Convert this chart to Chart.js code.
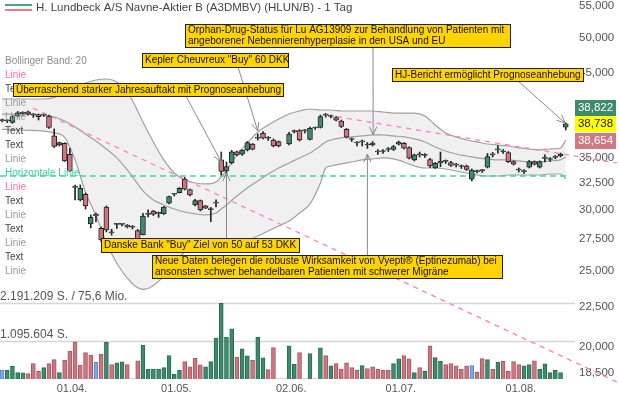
<!DOCTYPE html>
<html>
<head>
<meta charset="utf-8">
<script src="https://cdn.jsdelivr.net/npm/chart.js@4.4.1/dist/chart.umd.min.js"></script>
<style>
  html, body { margin: 0; padding: 0; background: #fff; }
</style>
</head>
<body>
<canvas id="mycanvas" width="619" height="399"></canvas>
<script>
// x axis: one slot per trading day, labels only at month starts
var tickLabels = ['01.04.', '01.05.', '02.06.', '01.07.', '01.08.'];
var tickIndex = [13, 33, 55, 76, 99];

// daily candles (DKK), index 54 has no candle
var openV = [39.10, 39.06, 38.90, 39.64, 39.95, 40.14, 39.75, 39.79, 39.75, 39.64,
  37.36, 36.34, 36.55, 35.38, 32.07, 30.89, 31.42, 28.77, 29.61, 28.40,
  30.24, 28.03, 28.73, 28.73, 28.65, 28.49, 28.21, 27.87, 29.60, 29.90,
  29.68, 29.64, 30.60, 31.42, 31.57, 32.88, 31.85, 30.44, 30.83, 30.35,
  30.02, 30.60, 34.79, 33.67, 34.50, 35.65, 35.38, 35.84, 36.48, 37.11,
  37.65, 37.11, 36.91, 36.73, null, 36.48, 37.84, 37.96, 37.92, 36.99,
  38.25, 38.31, 39.75, 39.58, 39.46, 39.06, 38.10, 36.97, 36.59, 36.70,
  36.37, 36.59, 35.62, 35.67, 35.89, 35.89, 36.46, 36.55, 36.09, 34.79,
  35.31, 35.26, 34.84, 33.97, 34.48, 34.64, 34.51, 34.27, 34.12, 34.17,
  32.85, 33.60, 33.70, 34.04, 35.31, 35.84, 35.65, 35.55, 34.62, 33.77,
  33.60, 34.04, 34.62, 34.04, 34.95, 34.84, 35.05, 35.20, 38.35];
var highV = [39.29, 39.23, 39.68, 40.17, 40.14, 40.23, 39.95, 39.87, 39.87, 39.75,
  38.14, 36.70, 36.62, 36.02, 32.30, 32.30, 31.54, 29.55, 29.72, 28.50,
  30.35, 28.32, 28.82, 28.80, 28.72, 28.64, 28.30, 29.70, 29.99, 29.95,
  29.81, 30.31, 31.26, 31.51, 32.06, 33.03, 31.91, 30.94, 30.89, 30.40,
  30.21, 30.90, 35.62, 34.58, 35.79, 35.72, 35.84, 36.75, 36.53, 37.58,
  37.85, 37.30, 37.03, 36.80, null, 37.75, 38.03, 38.08, 38.08, 38.37,
  38.37, 39.75, 39.95, 39.75, 39.58, 39.17, 38.20, 37.14, 36.75, 36.91,
  36.64, 36.75, 35.89, 35.89, 36.10, 36.32, 36.80, 36.64, 36.16, 35.41,
  35.62, 35.46, 34.95, 34.53, 35.62, 34.79, 34.64, 34.43, 34.27, 34.27,
  33.87, 33.77, 33.82, 35.46, 35.57, 36.32, 35.89, 35.67, 34.69, 33.97,
  33.82, 34.74, 34.69, 34.69, 35.31, 35.03, 35.26, 35.51, 38.822];
var lowV = [38.94, 38.88, 38.78, 39.52, 39.75, 39.75, 39.48, 39.17, 39.58, 38.21,
  36.10, 36.26, 34.64, 33.62, 30.89, 30.80, 30.08, 28.43, 28.97, 27.30,
  28.10, 27.83, 28.40, 28.60, 28.43, 28.34, 27.40, 27.84, 29.37, 29.50,
  29.33, 29.59, 30.53, 31.26, 31.54, 31.82, 31.26, 30.35, 29.90, 30.11,
  28.97, 30.26, 33.27, 33.27, 34.38, 35.20, 35.25, 35.73, 35.84, 36.91,
  37.03, 36.86, 36.16, 36.16, null, 36.37, 37.69, 36.80, 37.69, 36.91,
  38.08, 38.25, 39.52, 39.40, 39.06, 38.31, 37.14, 36.75, 36.26, 36.26,
  36.00, 36.26, 35.36, 35.46, 35.67, 35.78, 36.37, 35.94, 34.90, 34.69,
  35.10, 35.05, 34.02, 33.92, 34.10, 34.43, 34.12, 34.07, 33.92, 33.72,
  32.69, 33.47, 33.52, 33.97, 35.10, 35.51, 35.46, 34.53, 34.27, 33.57,
  33.42, 33.97, 34.27, 33.97, 34.58, 34.63, 34.90, 35.10, 38.03];
var closeV = [39.10, 39.06, 39.56, 40.02, 39.95, 39.87, 39.75, 39.56, 39.75, 38.33,
  36.22, 36.62, 34.69, 33.67, 32.07, 31.98, 30.35, 29.35, 29.46, 27.43,
  28.26, 28.03, 28.73, 28.73, 28.51, 28.49, 27.51, 29.46, 29.60, 29.61,
  29.68, 30.24, 31.20, 31.42, 31.98, 31.91, 31.36, 30.83, 29.99, 30.15,
  30.02, 30.60, 33.62, 34.10, 35.65, 35.31, 35.79, 36.62, 35.91, 37.11,
  37.11, 37.11, 36.26, 36.26, null, 37.58, 37.84, 36.91, 37.92, 38.22,
  38.25, 39.58, 39.75, 39.58, 39.14, 38.42, 37.22, 36.97, 36.59, 36.70,
  36.37, 36.37, 35.62, 35.67, 35.89, 36.21, 36.68, 36.02, 34.97, 35.31,
  35.31, 35.26, 34.17, 34.43, 34.64, 34.64, 34.24, 34.27, 34.12, 33.82,
  33.77, 33.60, 33.70, 35.13, 35.31, 35.84, 35.65, 34.62, 34.36, 33.77,
  33.60, 34.62, 34.36, 34.62, 34.95, 34.84, 35.05, 35.41, 38.738];

// daily volume (shares) and bar colour class: u = up, d = down, n = unchanged
var volume = [252000, 252000, 369000, 184000, 175000, 155000, 446000, 223000, 330000, 446000,
  563000, 184000, 543000, 805000, 1077000, 398000, 766000, 689000, 485000, 718000,
  1067000, 417000, 466000, 495000, 417000, 0, 524000, 980000, 281000, 281000,
  281000, 330000, 679000, 136000, 252000, 504000, 349000, 601000, 407000, 349000,
  504000, 1174000, 2191209, 1203000, 1455000, 631000, 873000, 669000, 543000, 1203000,
  611000, 272000, 912000, 0, 0, 960000, 427000, 766000, 0, 737000,
  0, 902000, 679000, 378000, 446000, 281000, 466000, 330000, 252000, 388000,
  301000, 349000, 281000, 252000, 252000, 446000, 582000, 679000, 582000, 184000,
  330000, 223000, 960000, 621000, 514000, 417000, 446000, 378000, 281000, 378000,
  388000, 194000, 592000, 563000, 281000, 485000, 514000, 223000, 504000, 417000,
  378000, 417000, 524000, 281000, 437000, 184000, 252000, 184000, null];
var volDir = ['n','u','u','u','u','d','d','d','u','d',
  'd','u','d','d','d','d','d','d','n','d',
  'u','d','u','u','d','n','d','u','u','u',
  'u','u','u','u','u','d','d','d','d','u',
  'u','u','u','u','u','d','u','u','d','u',
  'u','d','d','n','n','u','u','d','n','u',
  'n','u','d','u','d','d','d','d','d','u',
  'd','d','d','d','d','u','u','d','d','u',
  'd','u','d','u','u','d','d','d','d','d',
  'n','d','d','u','d','u','d','d','d','d',
  'u','u','d','u','u','u','u','u','u'];

// Bollinger band (20) read at sample days
var bbIndex = [0, 4, 8, 10, 12, 14, 16, 18, 20, 22,
  24, 26, 27, 29, 31, 33, 35, 37, 39, 41,
  42, 43, 45, 47, 49, 51, 53, 55, 57, 59,
  61, 62, 63, 65, 67, 69, 71, 73, 75, 77,
  79, 81, 83, 85, 87, 89, 91, 93, 95, 97,
  99, 101, 103, 105, 107, 108];
var bbUpper = [41.69, 41.69, 41.69, 41.90, 42.50, 43.20, 43.72, 44.11, 44.24, 43.85,
  42.60, 40.23, 38.94, 36.70, 34.79, 33.47, 32.78, 32.49, 32.40, 32.59,
  33.08, 33.77, 35.31, 36.59, 37.80, 38.59, 39.29, 39.87, 40.23, 40.47,
  40.35, 40.35, 40.35, 40.23, 40.23, 40.23, 40.23, 40.11, 39.99, 39.99,
  39.99, 39.64, 38.59, 37.69, 37.25, 36.91, 36.70, 36.48, 36.37, 36.26,
  36.05, 35.94, 35.84, 35.94, 36.05, 36.91];
var bbMid = [39.87, 39.87, 39.75, 39.52, 39.06, 38.37, 37.58, 36.80, 35.94, 35.00,
  33.77, 32.40, 31.73, 30.89, 30.44, 30.08, 29.81, 29.64, 29.55, 29.72,
  30.08, 30.44, 31.26, 32.01, 32.69, 33.37, 33.97, 34.48, 35.00, 35.52,
  36.26, 36.70, 36.91, 37.14, 37.25, 37.36, 37.47, 37.47, 37.36, 37.25,
  37.03, 36.70, 36.16, 35.73, 35.41, 35.20, 35.00, 34.90, 34.79, 34.79,
  34.69, 34.58, 34.58, 34.69, 34.79, 35.10];
var bbLower = [38.10, 38.00, 37.90, 37.70, 37.20, 34.80, 31.60, 29.50, 27.20, 25.60,
  24.50, 23.80, 23.69, 23.97, 24.66, 25.69, 26.47, 26.95, 27.11, 27.19,
  27.35, 27.35, 27.35, 27.43, 27.76, 28.18, 28.60, 29.02, 29.72, 30.53,
  32.49, 33.97, 34.17, 34.38, 34.58, 34.79, 34.90, 35.00, 34.90, 34.58,
  34.17, 33.97, 33.97, 33.87, 33.67, 33.47, 33.27, 33.17, 33.17, 33.27,
  33.27, 33.27, 33.27, 33.37, 33.37, 32.88];

// drawn lines: two trend lines (index, price) and a horizontal level
var trendA = [[5.94, 40.59], [118.2, 17.94]];
var trendB = [[62.3, 39.75], [117.8, 34.48]];
var levelLine = 33.17;

var priceTicks = [18.5, 20, 22.5, 25, 27.5, 30, 32.5, 35, 45, 50, 55];
var lastQuotes = [38.822, 38.738, 38.654];

var legendItems = [
  ['Bollinger Band: 20', '#8c8c8c'], ['Linie', '#ff6fb5'], ['Text', '#444'], ['Linie', '#999'],
  ['Linie', '#999'], ['Text', '#444'], ['Text', '#444'], ['Linie', '#999'],
  ['Horizontale Linie', '#35d29c'], ['Linie', '#ff6fb5'], ['Text', '#444'], ['Linie', '#999'],
  ['Text', '#444'], ['Linie', '#999'], ['Text', '#444'], ['Linie', '#999']
];

// news notes: box [x, y, w, h] in px, arrow from box point to (day index, price)
var notes = [
  { lines: ['Orphan-Drug-Status für Lu AG13909 zur Behandlung von Patienten mit',
            'angeborener Nebennierenhyperplasie in den USA und EU'],
    box: [185, 24, 325, 23], from: [373, 47], at: [71.1, 37.47] },
  { lines: ['Kepler Cheuvreux "Buy" 60 DKK'], box: [142, 53, 146, 14], from: [238, 67], at: [49, 37.92] },
  { lines: ['Überraschend starker Jahresauftakt mit Prognoseanhebung'], box: [13, 83, 270, 13], from: [186, 96], at: [42, 34.58] },
  { lines: ['Danske Bank "Buy" Ziel von 50 auf 53 DKK'], box: [101, 238, 198, 14], from: [226.5, 238], at: [43, 33.47] },
  { lines: ['Neue Daten belegen die robuste Wirksamkeit von Vyepti® (Eptinezumab) bei',
            'ansonsten schwer behandelbaren Patienten mit schwerer Migräne'],
    box: [152, 255, 350, 23], from: [367.4, 255], at: [70, 35.41] },
  { lines: ['HJ-Bericht ermöglicht Prognoseanhebung'], box: [392, 68, 191, 13], from: [518, 81], at: [107.9, 38.822] }
];

var FONT = "'Liberation Sans', Arial, sans-serif";
Chart.defaults.font.family = FONT;

var upColor = '#3d8b6d';
var downColor = '#cc7680';
var volFill = { u: '#3d8b6d', d: '#cc7680', n: '#7ea7e6' };
var volEdge = { u: '#2b6b52', d: '#a85862', n: '#5582cc' };

function deNum(v, d) {
  var s = v.toFixed(d).split('.');
  var int = s[0].replace(/\B(?=(\d{3})+(?!\d))/g, '.');
  return d ? int + ',' + s[1] : int;
}

var candleIdx = [];
for (var i = 0; i < openV.length; i++) {
  if (openV[i] !== null) candleIdx.push(i);
}
var volIdx = [];
for (var j = 0; j < volume.length; j++) {
  if (volume[j] !== null) volIdx.push(j);
}

function bandSeries(vals) {
  return bbIndex.map(function (x, k) { return { x: x, y: vals[k] }; });
}
function pairSeries(p) {
  return p.map(function (q) { return { x: q[0], y: q[1] }; });
}

var volMax = Math.max.apply(null, volIdx.map(function (k) { return volume[k]; }));

var overlay = {
  id: 'overlay',
  beforeDatasetsDraw: function (chart) {
    var c = chart.ctx, yv = chart.scales.yv, a = chart.chartArea;
    c.save();
    [volMax, Math.floor(volMax / 2)].forEach(function (v, k) {
      var y = Math.round(yv.getPixelForValue(v)) + 0.5;
      c.strokeStyle = '#d6d6d6';
      c.lineWidth = 1.5;
      c.beginPath(); c.moveTo(0, y); c.lineTo(a.right, y); c.stroke();
      c.fillStyle = '#555';
      c.font = '12px ' + FONT;
      c.textBaseline = 'middle';
      c.textAlign = 'left';
      var txt = deNum(v, 0) + ' S.' + (k === 0 ? ' / 75,6 Mio.' : '');
      c.fillText(txt, 0, y - 7);
    });
    c.restore();
  },
  afterDatasetsDraw: function (chart) {
    var c = chart.ctx;
    c.save();
    c.font = '10px ' + FONT;
    c.textBaseline = 'middle';
    c.textAlign = 'left';
    legendItems.forEach(function (it, k) {
      c.fillStyle = it[1];
      c.fillText(it[0], 5, 61 + 14 * k);
    });
    c.restore();
  },
  afterDraw: function (chart) {
    var c = chart.ctx, xs = chart.scales.x, ys = chart.scales.y;
    c.save();
    // title
    c.fillStyle = '#49a785'; c.fillRect(5, 4, 27, 2);
    c.fillStyle = '#e27f8b'; c.fillRect(5, 9, 27, 2);
    c.fillStyle = '#444';
    c.font = '11.5px ' + FONT;
    c.textBaseline = 'middle';
    c.textAlign = 'left';
    c.fillText('H. Lundbeck A/S Navne-Aktier B (A3DMBV) (HLUN/B) - 1 Tag', 36, 8);

    // notes
    notes.forEach(function (n) {
      var tx = xs.getPixelForValue(n.at[0]), ty = ys.getPixelForValue(n.at[1]);
      c.strokeStyle = '#8a8a8a';
      c.lineWidth = 1;
      c.beginPath(); c.moveTo(n.from[0], n.from[1]); c.lineTo(tx, ty); c.stroke();
      var ang = Math.atan2(ty - n.from[1], tx - n.from[0]), L = 9, w = 0.42;
      c.beginPath();
      c.moveTo(tx - L * Math.cos(ang - w), ty - L * Math.sin(ang - w));
      c.lineTo(tx, ty);
      c.lineTo(tx - L * Math.cos(ang + w), ty - L * Math.sin(ang + w));
      c.stroke();
    });
    notes.forEach(function (n) {
      var b = n.box;
      c.fillStyle = '#ffd400';
      c.fillRect(b[0], b[1], b[2], b[3]);
      c.strokeStyle = '#222';
      c.lineWidth = 1;
      c.strokeRect(b[0] + 0.5, b[1] + 0.5, b[2], b[3]);
      c.fillStyle = '#111';
      c.font = '10px ' + FONT;
      c.textBaseline = 'middle';
      n.lines.forEach(function (t, k) {
        var y = n.lines.length === 1 ? b[1] + b[3] / 2 + 0.5 : b[1] + 6.5 + 10.5 * k;
        c.fillText(t, b[0] + 3, y);
      });
    });

    // last quote tags
    var yc = ys.getPixelForValue(lastQuotes[1]);
    var tags = [
      [lastQuotes[0], yc - 16, '#3d8b6d', '#fff'],
      [lastQuotes[1], yc, '#ffff00', '#222'],
      [lastQuotes[2], yc + 17, '#cf7a82', '#fff']
    ];
    c.font = '11.5px ' + FONT;
    c.textAlign = 'center';
    tags.forEach(function (t) {
      c.fillStyle = t[2];
      c.fillRect(575, Math.round(t[1] - 8), 41, 16);
      c.fillStyle = t[3];
      c.fillText(deNum(t[0], 3), 595.5, t[1] + 0.5);
    });
    c.restore();
  }
};

var ctx = document.getElementById('mycanvas');

var chart = new Chart(ctx, {
  type: 'bar',
  data: {
    datasets: [
      {
        type: 'line', label: 'BB oben', data: bandSeries(bbUpper), order: 12,
        borderColor: '#a0a0a0', borderWidth: 1.2, pointRadius: 0,
        cubicInterpolationMode: 'monotone', fill: '+2', backgroundColor: '#f0f0f0'
      },
      {
        type: 'line', label: 'BB Mitte', data: bandSeries(bbMid), order: 11,
        borderColor: '#a0a0a0', borderWidth: 1.2, pointRadius: 0,
        cubicInterpolationMode: 'monotone', fill: false
      },
      {
        type: 'line', label: 'BB unten', data: bandSeries(bbLower), order: 11,
        borderColor: '#a0a0a0', borderWidth: 1.2, pointRadius: 0,
        cubicInterpolationMode: 'monotone', fill: false
      },
      {
        type: 'bar', label: 'Volumen', yAxisID: 'yv', order: 9, grouped: false,
        data: volIdx.map(function (k) { return { x: k, y: volume[k] }; }),
        backgroundColor: volIdx.map(function (k) { return volume[k] === 0 ? '#cfcfcf' : volFill[volDir[k]]; }),
        borderColor: volIdx.map(function (k) { return volume[k] === 0 ? '#cfcfcf' : volEdge[volDir[k]]; }),
        borderWidth: 1, borderSkipped: 'start', barThickness: 4, minBarLength: 1
      },
      {
        type: 'line', label: 'Horizontale Linie', order: 6,
        data: [{ x: -0.4, y: levelLine }, { x: 108.3, y: levelLine }],
        borderColor: '#3fd3a0', borderWidth: 1.3, borderDash: [6, 4], pointRadius: 0
      },
      {
        type: 'line', label: 'Linie A', order: 5, clip: false, data: pairSeries(trendA),
        borderColor: '#ff7fc4', borderWidth: 1.3, borderDash: [5, 5], pointRadius: 0
      },
      {
        type: 'line', label: 'Linie B', order: 5, clip: false, data: pairSeries(trendB),
        borderColor: '#ff7fc4', borderWidth: 1.3, borderDash: [5, 5], pointRadius: 0
      },
      {
        type: 'bar', label: 'Docht', order: 2, grouped: false,
        data: candleIdx.map(function (k) { return { x: k, y: [lowV[k], highV[k]] }; }),
        backgroundColor: '#222', borderWidth: 0, barThickness: 1
      },
      {
        type: 'bar', label: 'Kurs', order: 1, grouped: false,
        data: candleIdx.map(function (k) { return { x: k, y: [openV[k], closeV[k]] }; }),
        backgroundColor: candleIdx.map(function (k) { return closeV[k] >= openV[k] ? upColor : downColor; }),
        borderColor: '#222', borderWidth: 1, borderSkipped: false, barThickness: 5, minBarLength: 1
      }
    ]
  },
  options: {
    responsive: false,
    devicePixelRatio: 1,
    animation: false,
    events: [],
    layout: { padding: 0 },
    plugins: { legend: { display: false }, tooltip: { enabled: false } },
    scales: {
      x: {
        type: 'linear', offset: false, min: -0.383, max: 109.77,
        grid: { display: false, drawTicks: false }, border: { display: false },
        ticks: {
          autoSkip: false, maxRotation: 0, color: '#555', padding: 3, font: { size: 11 },
          callback: function (v, k) { return tickLabels[k]; }
        },
        afterBuildTicks: function (s) {
          s.ticks = tickIndex.map(function (k) { return { value: k + 0.4 }; });
        },
        afterFit: function (s) { s.height = 20; s.paddingLeft = 0; s.paddingRight = 0; }
      },
      y: {
        type: 'logarithmic', position: 'right', min: 18.155, max: 55.938,
        grid: { display: false, drawTicks: false }, border: { display: false },
        ticks: {
          color: '#555', padding: 4, font: { size: 11.5 },
          callback: function (v) { return deNum(v, 3); }
        },
        afterBuildTicks: function (s) {
          s.ticks = priceTicks.map(function (v) { return { value: v }; });
        },
        afterFit: function (s) { s.width = 44; s.paddingTop = 0; s.paddingBottom = 0; }
      },
      yv: { type: 'linear', position: 'left', display: false, min: 0, max: 10970000 }
    }
  },
  plugins: [overlay]
});
</script>
</body>
</html>
